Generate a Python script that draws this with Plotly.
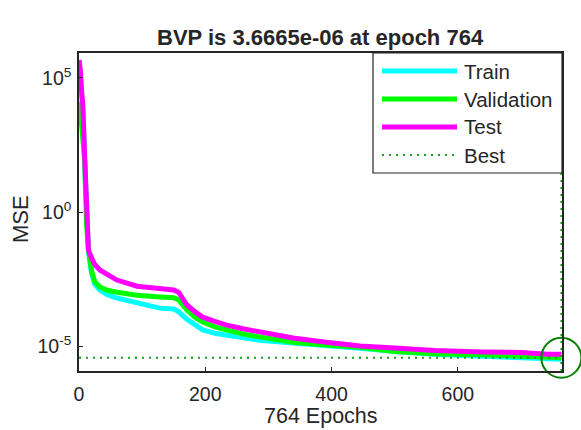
import plotly.graph_objects as go

# ---- data ----
epochs = [0, 2, 4, 6, 9, 12, 15, 20, 25, 33, 45, 60, 92, 128, 150, 158, 171, 185,
          196, 215, 234, 260, 286, 339, 392, 445, 500, 563, 640, 700, 742, 764]

train_mse = [4.0e5, 1.6e5, 2.5e4, 6.3e3, 79, 2.5e-1, 3.2e-2, 5.0e-3, 2.0e-3, 1.23e-3,
             8.3e-4, 6.2e-4, 4.0e-4, 2.6e-4, 2.4e-4, 1.9e-4, 1.0e-4, 6.3e-5, 4.0e-5,
             3.0e-5, 2.6e-5, 2.0e-5, 1.66e-5, 1.3e-5, 1.07e-5, 8.3e-6, 6.3e-6, 5.0e-6,
             4.2e-6, 3.5e-6, 3.3e-6, 3.2e-6]

val_mse = [1.26e4, 1.0e4, 2.0e3, 6.3e2, 79, 3.2e-1, 4.0e-2, 6.3e-3, 2.5e-3, 1.6e-3,
           1.2e-3, 1.02e-3, 7.9e-4, 6.8e-4, 6.3e-4, 5.2e-4, 2.2e-4, 1.12e-4, 7.9e-5,
           5.2e-5, 4.0e-5, 2.8e-5, 2.2e-5, 1.4e-5, 1.1e-5, 9.1e-6, 6.3e-6, 5.2e-6,
           4.7e-6, 4.0e-6, 3.8e-6, 3.6665e-6]

test_mse = [4.7e5, 2.0e5, 3.5e4, 1.0e4, 1.1e2, 4.0e-1, 3.8e-2, 1.9e-2, 1.1e-2, 6.9e-3,
            4.5e-3, 2.9e-3, 1.7e-3, 1.35e-3, 1.23e-3, 1.0e-3, 3.4e-4, 1.8e-4, 1.2e-4,
            8.3e-5, 6.0e-5, 4.4e-5, 3.3e-5, 2.0e-5, 1.4e-5, 1.0e-5, 8.5e-6, 6.8e-6,
            6.0e-6, 5.75e-6, 5.0e-6, 4.9e-6]

best_epoch = 764
best_perf = 3.6665e-6

x_range = [0, 765]
y_log_range = [-5.93, 5.93]
x_ticks = [0, 200, 400, 600]
y_ticks = [1e-5, 1e0, 1e5]
y_tick_text = ["10<sup>-5</sup>", "10<sup>0</sup>", "10<sup>5</sup>"]

series_names = ["Train", "Validation", "Test", "Best"]
series_colors = ["#00FFFF", "#00FF00", "#FF00FF", "#1FA01F"]

FONT = "Liberation Sans, Arial, sans-serif"
TXT = "#262626"
DOT = "2px,5px"

# ---- figure ----
W, H = 581, 430
L, R, T, B = 79, 19, 53, 59
pw, ph = W - L - R, H - T - B


def px_x(p):
    return (p - L) / pw


def px_y(p):
    return (H - B - p) / ph


fig = go.Figure()
for name, ys, col in zip(series_names[:3], [train_mse, val_mse, test_mse], series_colors[:3]):
    fig.add_trace(go.Scatter(x=epochs, y=ys, mode="lines", name=name,
                             line=dict(color=col, width=5), showlegend=False))

# best lines
fig.add_trace(go.Scatter(x=x_range, y=[best_perf, best_perf], mode="lines", name="Best",
                         line=dict(color=series_colors[3], width=2, dash=DOT),
                         showlegend=False))
fig.add_trace(go.Scatter(x=[best_epoch, best_epoch],
                         y=[10 ** y_log_range[0], 10 ** y_log_range[1]], mode="lines",
                         line=dict(color=series_colors[3], width=2, dash=DOT),
                         showlegend=False, cliponaxis=False))
fig.add_trace(go.Scatter(x=[best_epoch], y=[best_perf], mode="markers",
                         marker=dict(symbol="circle-open", size=40, color="#008000",
                                     line=dict(width=2, color="#008000")),
                         showlegend=False, cliponaxis=False))

axis_common = dict(showline=True, linecolor=TXT, linewidth=1.5, mirror=True,
                   ticks="inside", ticklen=4, tickcolor=TXT, showgrid=False,
                   zeroline=False, tickfont=dict(family=FONT, size=19.5, color=TXT))

fig.update_xaxes(range=x_range, tickvals=x_ticks, ticklabelstandoff=5, **axis_common)
fig.update_yaxes(type="log", range=y_log_range, tickvals=y_ticks, ticktext=y_tick_text,
                 ticklabelstandoff=2, **axis_common)

# custom legend (MATLAB style)
shapes = [dict(type="rect", xref="paper", yref="paper",
               x0=px_x(373), x1=1.0, y0=px_y(173), y1=1.0,
               line=dict(color=TXT, width=1.2), fillcolor="white", layer="above")]
annotations = []
leg_y = [71, 99, 127, 155]
for i, (name, col) in enumerate(zip(series_names, series_colors)):
    yy = px_y(leg_y[i])
    if name == "Best":
        shapes.append(dict(type="line", xref="paper", yref="paper",
                           x0=px_x(382), x1=px_x(457), y0=yy, y1=yy,
                           line=dict(color=col, width=2, dash=DOT), layer="above"))
    else:
        shapes.append(dict(type="line", xref="paper", yref="paper",
                           x0=px_x(382), x1=px_x(457), y0=yy, y1=yy,
                           line=dict(color=col, width=5), layer="above"))
    annotations.append(dict(text=name, xref="paper", yref="paper", x=px_x(462), y=yy,
                            xanchor="left", yanchor="middle", showarrow=False,
                            font=dict(family=FONT, size=20.5, color=TXT)))

annotations.append(dict(text="<b>BVP is 3.6665e-06 at epoch 764</b>", xref="paper",
                        yref="paper", x=0.5, y=px_y(38), xanchor="center",
                        yanchor="middle", showarrow=False,
                        font=dict(family=FONT, size=22, color=TXT)))
annotations.append(dict(text="764 Epochs", xref="paper", yref="paper", x=0.5,
                        y=px_y(416), xanchor="center", yanchor="middle",
                        showarrow=False, font=dict(family=FONT, size=21.5, color=TXT)))
annotations.append(dict(text="MSE", xref="paper", yref="paper", x=px_x(20),
                        y=px_y(219), xanchor="center", yanchor="middle", textangle=-90,
                        showarrow=False, font=dict(family=FONT, size=22, color=TXT)))

fig.update_layout(width=W, height=H, margin=dict(l=L, r=R, t=T, b=B, autoexpand=False),
                  paper_bgcolor="white", plot_bgcolor="white",
                  shapes=shapes, annotations=annotations, showlegend=False)

fig.write_html("out.html")
